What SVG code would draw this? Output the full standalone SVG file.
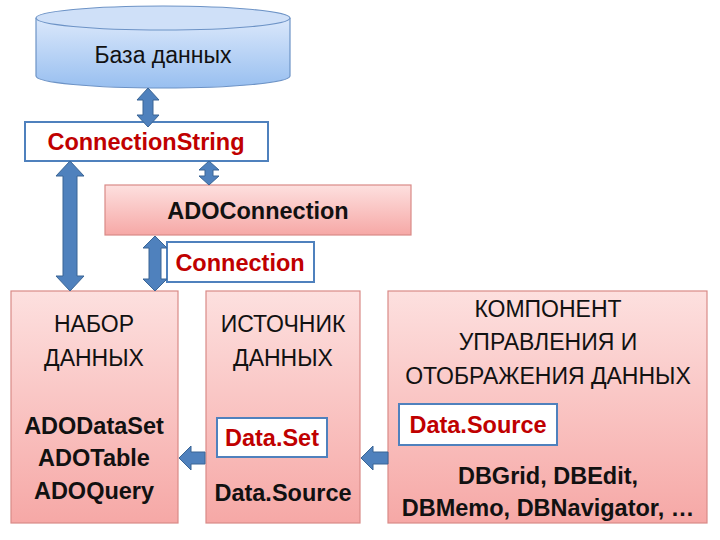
<svg xmlns="http://www.w3.org/2000/svg" width="720" height="540" viewBox="0 0 720 540">
<defs>
<linearGradient id="pink" x1="0" y1="0" x2="0" y2="1"><stop offset="0" stop-color="#fde0df"/><stop offset="1" stop-color="#f6a8a6"/></linearGradient>
<linearGradient id="blue" x1="0" y1="0" x2="0" y2="1"><stop offset="0" stop-color="#dbe8fb"/><stop offset="1" stop-color="#98bff0"/></linearGradient>
<style>
.box{fill:url(#pink);stroke:#d98a87;stroke-width:1.2}
.lab{fill:#fff;stroke:#4f81bd;stroke-width:2}
.arr{fill:#4f81bd;stroke:#3a6595;stroke-width:1}
text{font-family:"Liberation Sans","DejaVu Sans",sans-serif;text-anchor:middle}
.n{font-size:23px;fill:#111}
.b{font-size:23.5px;font-weight:bold;fill:#111}
.r{font-size:23.5px;font-weight:bold;fill:#c00000}
</style>
</defs>
<g id="db">
<path d="M36 18 V76 A127 12 0 0 0 290 76 V18" fill="url(#blue)" stroke="#6d93c6" stroke-width="1.2"/>
<ellipse cx="163" cy="18" rx="127" ry="12" fill="#cfe0f8" stroke="#6d93c6" stroke-width="1.2"/>
<text class="n" x="163" y="63">База данных</text>
</g>
<g id="connstr"><rect class="lab" x="25" y="122" width="243" height="39"/><text class="r" x="146" y="150">ConnectionString</text></g>
<g id="adoconn"><rect class="box" x="105" y="185" width="306" height="50"/><text class="b" x="258" y="219">ADOConnection</text></g>
<g id="conn"><rect class="lab" x="167" y="242" width="147" height="40"/><text class="r" x="240" y="271">Connection</text></g>
<g id="dataset">
<rect class="box" x="11" y="291" width="167" height="232"/>
<text class="n" x="94" y="332">НАБОР</text><text class="n" x="94" y="366">ДАННЫХ</text>
<text class="b" x="94" y="434">ADODataSet</text><text class="b" x="94" y="466">ADOTable</text><text class="b" x="94" y="499">ADOQuery</text>
</g>
<g id="datasource">
<rect class="box" x="206" y="291" width="154" height="232"/>
<text class="n" x="283" y="332">ИСТОЧНИК</text><text class="n" x="283" y="366">ДАННЫХ</text>
<rect class="lab" x="217" y="418" width="110" height="39"/><text class="r" x="272" y="446">Data.Set</text>
<text class="b" x="283" y="501">Data.Source</text>
</g>
<g id="control">
<rect class="box" x="388" y="291" width="319" height="232"/>
<text class="n" x="548" y="317">КОМПОНЕНТ</text><text class="n" x="548" y="350">УПРАВЛЕНИЯ И</text><text class="n" x="548" y="384">ОТОБРАЖЕНИЯ ДАННЫХ</text>
<rect class="lab" x="399" y="404" width="158" height="41"/><text class="r" x="478" y="433">Data.Source</text>
<text class="b" x="548" y="484">DBGrid, DBEdit,</text><text class="b" x="548" y="516">DBMemo, DBNavigator, …</text>
</g>
<g id="connectors">
<path class="arr" d="M148 88 L159 100 H153 V115 H159 L148 127 L137 115 H143 V100 H137 Z"/>
<path class="arr" d="M209 161 L219 170 H213 V176 H219 L209 185 L199 176 H205 V170 H199 Z"/>
<path class="arr" d="M70 161 L84 176 H77 V276 H84 L70 291 L56 276 H63 V176 H56 Z"/>
<path class="arr" d="M155 236 L167 248 H161 V279 H167 L155 291 L143 279 H149 V248 H143 Z"/>
<path class="arr" d="M179 458 L191 446 V452 H205 V464 H191 V470 Z"/>
<path class="arr" d="M361 458 L373 446 V452 H388 V464 H373 V470 Z"/>
</g>
</svg>
